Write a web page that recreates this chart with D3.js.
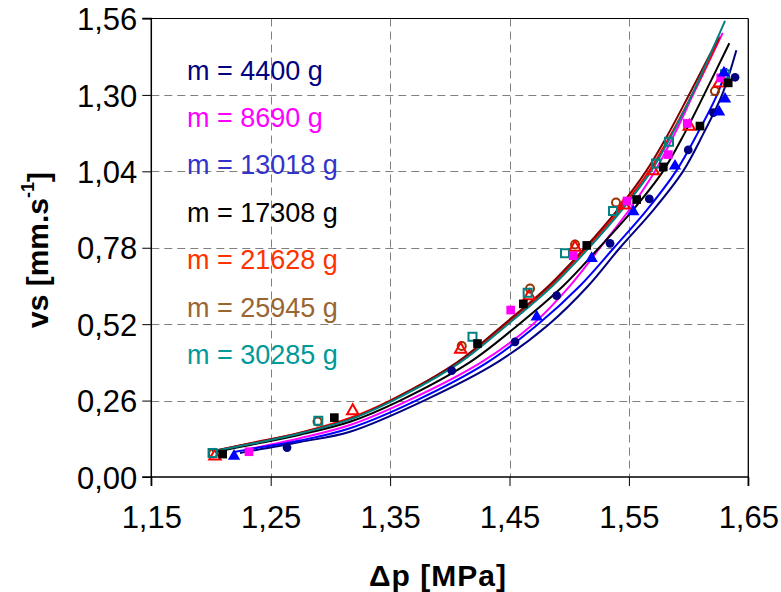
<!DOCTYPE html>
<html><head><meta charset="utf-8">
<script src="https://cdn.jsdelivr.net/npm/d3@7"></script>
<style>body{margin:0;background:#fff}svg{display:block}</style>
</head><body><svg id="c" width="781" height="592"></svg>
<script>
// ---- data ----
const xTicks = [1.15, 1.25, 1.35, 1.45, 1.55, 1.65];
const yTicks = [0, 0.26, 0.52, 0.78, 1.04, 1.30, 1.56];
const seriesNames = ["m = 4400 g", "m = 8690 g", "m = 13018 g", "m = 17308 g", "m = 21628 g", "m = 25945 g", "m = 30285 g"];

// measured points (Δp [MPa], vs [mm/s])
const dp4400 = [1.2637, 1.4016, 1.4546, 1.4895, 1.5342, 1.5671, 1.5997, 1.6207, 1.6389];
const vs4400 = [0.100, 0.362, 0.460, 0.617, 0.795, 0.946, 1.113, 1.240, 1.360];
const dp8690 = [1.2318, 1.4510, 1.5034, 1.5484, 1.5830, 1.5989, 1.6269];
const vs8690 = [0.086, 0.568, 0.753, 0.939, 1.097, 1.203, 1.358];
const dp13018 = [1.2193, 1.4728, 1.5188, 1.5537, 1.5886, 1.6255, 1.6305, 1.6296];
const vs13018 = [0.071, 0.545, 0.744, 0.903, 1.058, 1.242, 1.286, 1.375];
const dp17308 = [1.2098, 1.3033, 1.4232, 1.4616, 1.5147, 1.5565, 1.5788, 1.6095, 1.6332];
const vs17308 = [0.078, 0.202, 0.454, 0.589, 0.788, 0.944, 1.055, 1.194, 1.341];
const dp21628 = [1.2033, 1.3187, 1.4091, 1.4666, 1.5049, 1.5459, 1.5704, 1.6006, 1.6257];
const vs21628 = [0.071, 0.225, 0.434, 0.616, 0.781, 0.925, 1.041, 1.193, 1.340];
const dp25945 = [1.2017, 1.2892, 1.4100, 1.4672, 1.5049, 1.5392, 1.6221];
const vs25945 = [0.080, 0.189, 0.446, 0.641, 0.791, 0.934, 1.313];
const dp30285 = [1.2013, 1.2899, 1.4190, 1.4652, 1.4965, 1.5367, 1.5727, 1.5836, 1.6305];
const vs30285 = [0.082, 0.191, 0.477, 0.627, 0.761, 0.905, 1.067, 1.141, 1.370];

// model curves [Δp, vs]
const fit4400 = [[1.2243,0.082],[1.2745,0.119],[1.3164,0.154],[1.3784,0.26],[1.4397,0.39],[1.4831,0.52],[1.5158,0.65],[1.5425,0.78],[1.5708,0.91],[1.5953,1.04],[1.6126,1.17],[1.6280,1.30],[1.6400,1.452]];
const fit8690 = [[1.2302,0.094],[1.2745,0.132],[1.3164,0.177],[1.3650,0.26],[1.4262,0.39],[1.4697,0.52],[1.5006,0.65],[1.5258,0.78],[1.5505,0.91],[1.5718,1.04],[1.5886,1.17],[1.6037,1.30],[1.6286,1.511]];
const fit13018 = [[1.2193,0.085],[1.2327,0.095],[1.2745,0.124],[1.3164,0.166],[1.3717,0.26],[1.4315,0.39],[1.4739,0.52],[1.5089,0.65],[1.5375,0.78],[1.5653,0.91],[1.5894,1.04],[1.6076,1.17],[1.6238,1.30],[1.6319,1.391]];
const fit17308 = [[1.2034,0.085],[1.2327,0.109],[1.2745,0.144],[1.3164,0.188],[1.3583,0.26],[1.4166,0.39],[1.4580,0.52],[1.4949,0.65],[1.5250,0.78],[1.5537,0.91],[1.5785,1.04],[1.5967,1.17],[1.6129,1.30],[1.6341,1.476]];
const fit21628 = [[1.2017,0.088],[1.2327,0.115],[1.2745,0.151],[1.3164,0.201],[1.3499,0.26],[1.4068,0.39],[1.4471,0.52],[1.4844,0.65],[1.5149,0.78],[1.5427,0.91],[1.5668,1.04],[1.5858,1.17],[1.6028,1.30],[1.6186,1.43],[1.6263,1.498]];
const fit25945 = [[1.2008,0.088],[1.2327,0.114],[1.2745,0.150],[1.3164,0.197],[1.3507,0.26],[1.4061,0.39],[1.4454,0.52],[1.4827,0.65],[1.5132,0.78],[1.5406,0.91],[1.5643,1.04],[1.5833,1.17],[1.6003,1.30],[1.6249,1.493]];
const fit30285 = [[1.2008,0.087],[1.2327,0.112],[1.2745,0.148],[1.3164,0.196],[1.3524,0.26],[1.4087,0.39],[1.4487,0.52],[1.4860,0.65],[1.5166,0.78],[1.5444,0.91],[1.5685,1.04],[1.5866,1.17],[1.6028,1.30],[1.6305,1.552]];

// ---- styles ----
const legendColors = ["#000080", "#FF00FF", "#3333CC", "#000000", "#FF3300", "#996633", "#009999"];
const lineColors = ["#000080", "#FF00FF", "#0000FF", "#000000", "#FF0000", "#800000", "#008080"];
const markerColors = ["#000080", "#FF00FF", "#0000FF", "#000000", "#FF0000", "#993300", "#008080"];
const markerShapes = ["circle", "square", "triangle", "square", "triangle", "circle", "square"];
const markerFilled = [true, true, true, true, false, false, false];

const pts = [[dp4400, vs4400], [dp8690, vs8690], [dp13018, vs13018], [dp17308, vs17308], [dp21628, vs21628], [dp25945, vs25945], [dp30285, vs30285]];
const fits = [fit4400, fit8690, fit13018, fit17308, fit21628, fit25945, fit30285];

const svg = d3.select("#c");
const L = 151.3, R = 748.3, T = 18.5, B = 477;
const x = d3.scaleLinear().domain([1.15, 1.65]).range([L, R]);
const y = d3.scaleLinear().domain([0, 1.56]).range([B, T]);
const fmt = v => d3.format(".2f")(v).replace(".", ",");
const FONT = "'Liberation Sans', Arial, sans-serif";

svg.append("rect").attr("width", 781).attr("height", 592).attr("fill", "#fff");

// grid
const grid = svg.append("g").attr("stroke", "#808080").attr("stroke-width", 1).attr("stroke-dasharray", "8,5");
grid.selectAll("line.h").data(yTicks.slice(1, -1)).join("line")
  .attr("x1", L).attr("x2", R).attr("y1", d => Math.round(y(d)) + 0.5).attr("y2", d => Math.round(y(d)) + 0.5);
grid.selectAll("line.v").data(xTicks.slice(1, -1)).join("line")
  .attr("y1", T).attr("y2", B).attr("x1", d => Math.round(x(d)) + 0.5).attr("x2", d => Math.round(x(d)) + 0.5);

// frame top/right
svg.append("line").attr("x1", L).attr("x2", R).attr("y1", T).attr("y2", T).attr("stroke", "#000").attr("stroke-width", 1);
svg.append("line").attr("x1", R).attr("x2", R).attr("y1", T).attr("y2", B).attr("stroke", "#000").attr("stroke-width", 1.3);

// axes
const xAxis = svg.append("g").attr("transform", `translate(0,${B})`)
  .call(d3.axisBottom(x).tickValues(xTicks).tickSize(9).tickPadding(20).tickFormat(fmt));
const yAxis = svg.append("g").attr("transform", `translate(${L},0)`)
  .call(d3.axisLeft(y).tickValues(yTicks).tickSize(9).tickPadding(5).tickFormat(fmt));
[xAxis, yAxis].forEach(a => {
  a.select(".domain").attr("stroke", "#000").attr("stroke-width", 1.5);
  a.selectAll(".tick line").attr("stroke", "#000").attr("stroke-width", 1);
  a.selectAll(".tick text").attr("font-family", FONT).attr("font-size", 31).attr("fill", "#000");
});
xAxis.select(".domain").attr("d", `M${L},9V0H${R}V9`);
yAxis.select(".domain").attr("d", `M-9,${T}H0V${B}H-9`);
yAxis.selectAll(".tick text").attr("dy", "0.36em");

// lines
const lineGen = d3.line().x(d => x(d[0])).y(d => y(d[1])).curve(d3.curveCatmullRom.alpha(0.5));
const lg = svg.append("g").attr("fill", "none").attr("stroke-width", 2);
fits.forEach((f, i) => {
  lg.append("path").attr("d", lineGen(f)).attr("stroke", lineColors[i]);
});

// markers
const mg = svg.append("g");
const sym = { circle: d3.symbolCircle, square: d3.symbolSquare, triangle: d3.symbolTriangle };
const sizes = { circle: 60, square: 75, triangle: 66 };
[5, 4, 6, 0, 1, 2, 3].forEach(i => {
  const [px, py] = pts[i];
  const shape = markerShapes[i];
  const g = d3.symbol().type(sym[shape]).size(markerFilled[i] ? sizes[shape] : sizes[shape] * 0.85);
  px.forEach((p, k) => {
    mg.append("path").attr("d", g())
      .attr("transform", `translate(${x(p)},${y(py[k])})`)
      .attr("fill", markerFilled[i] ? markerColors[i] : "none")
      .attr("stroke", markerColors[i])
      .attr("stroke-width", markerFilled[i] ? 0 : 2);
  });
});

// legend text
const legY = [70, 117, 164, 212, 259, 307, 354];
svg.append("g").selectAll("text").data(seriesNames).join("text")
  .attr("x", 187).attr("y", (d, i) => legY[i]).attr("dy", "0.36em")
  .attr("font-family", FONT).attr("font-size", 27)
  .attr("fill", (d, i) => legendColors[i]).text(d => d);

// axis titles
svg.append("text").attr("x", 438).attr("y", 586).attr("text-anchor", "middle")
  .attr("font-family", FONT).attr("font-size", 30).attr("font-weight", "bold")
  .attr("letter-spacing", 1).text("Δp [MPa]");
const yt = svg.append("text").attr("transform", "translate(48,250) rotate(-90)").attr("text-anchor", "middle")
  .attr("font-family", FONT).attr("font-size", 30).attr("font-weight", "bold");
yt.append("tspan").text("vs [mm.s");
yt.append("tspan").attr("font-size", 18).attr("dy", "-0.8em").text("-1");
yt.append("tspan").attr("dy", "0.5em").text("]");
</script></body></html>
